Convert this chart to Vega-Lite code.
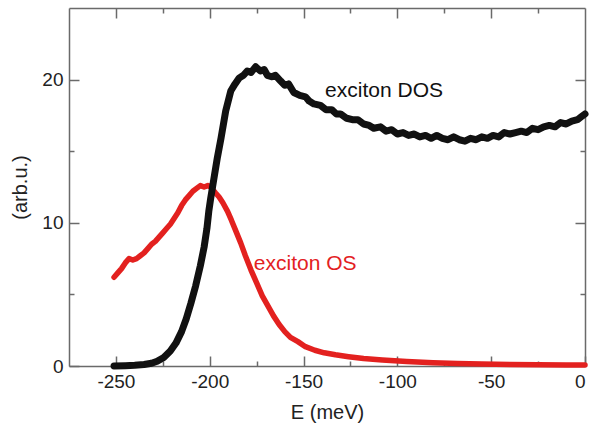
{
  "$schema": "https://vega.github.io/schema/vega-lite/v6.json",
  "width": 516,
  "height": 358,
  "autosize": {"type": "none"},
  "padding": {"left": 69, "top": 8, "right": 5, "bottom": 58},
  "background": "white",
  "config": {
    "view": {"stroke": null},
    "font": "Liberation Sans",
    "axis": {
      "grid": false,
      "domainColor": "#6a6a6a",
      "domainWidth": 1.5,
      "tickColor": "#6a6a6a",
      "tickWidth": 1.5,
      "labelColor": "#222222",
      "labelFont": "Liberation Sans",
      "labelFontSize": 19,
      "titleFont": "Liberation Sans",
      "titleFontSize": 20,
      "titleFontWeight": "normal",
      "titleColor": "#222222"
    }
  },
  "datasets": {
    "dos": [
      {"E": -251, "v": 0.0}, {"E": -245, "v": 0.02}, {"E": -240, "v": 0.05}, {"E": -235, "v": 0.1},
      {"E": -231, "v": 0.19}, {"E": -228, "v": 0.33}, {"E": -224.5, "v": 0.6}, {"E": -221, "v": 1.05},
      {"E": -218, "v": 1.6}, {"E": -215, "v": 2.4}, {"E": -212.5, "v": 3.3}, {"E": -210, "v": 4.4},
      {"E": -207.5, "v": 5.6}, {"E": -205, "v": 7.0}, {"E": -203, "v": 8.3}, {"E": -201.5, "v": 9.6},
      {"E": -200.5, "v": 10.8}, {"E": -199.5, "v": 11.7}, {"E": -198.5, "v": 12.5}, {"E": -197.5, "v": 13.3},
      {"E": -196, "v": 14.5}, {"E": -194, "v": 15.9}, {"E": -191.5, "v": 17.8}, {"E": -188.8, "v": 19.2},
      {"E": -186.5, "v": 19.7}, {"E": -184.4, "v": 20.1}, {"E": -182, "v": 20.3}, {"E": -180, "v": 20.6},
      {"E": -178, "v": 20.5}, {"E": -175.5, "v": 20.9}, {"E": -173, "v": 20.6}, {"E": -171, "v": 20.7},
      {"E": -169.3, "v": 20.3}, {"E": -167, "v": 20.2}, {"E": -165, "v": 20.3}, {"E": -162.2, "v": 19.9},
      {"E": -160, "v": 19.6}, {"E": -158, "v": 19.7}, {"E": -155.2, "v": 19.1}, {"E": -152, "v": 18.9},
      {"E": -149, "v": 18.8}, {"E": -147, "v": 18.5}, {"E": -144.5, "v": 18.3}, {"E": -141, "v": 18.2},
      {"E": -138, "v": 17.9}, {"E": -135, "v": 17.9}, {"E": -132.5, "v": 17.6}, {"E": -130.3, "v": 17.6},
      {"E": -127, "v": 17.3}, {"E": -124, "v": 17.2}, {"E": -121, "v": 17.2}, {"E": -118, "v": 16.9},
      {"E": -115, "v": 16.8}, {"E": -112.6, "v": 16.6}, {"E": -109, "v": 16.7}, {"E": -106, "v": 16.4},
      {"E": -103, "v": 16.5}, {"E": -100, "v": 16.2}, {"E": -97, "v": 16.3}, {"E": -94, "v": 16.1},
      {"E": -91, "v": 16.2}, {"E": -88, "v": 16.0}, {"E": -85, "v": 16.1}, {"E": -82, "v": 15.9},
      {"E": -79, "v": 16.1}, {"E": -76, "v": 15.9}, {"E": -73, "v": 15.8}, {"E": -70, "v": 16.0},
      {"E": -67, "v": 15.8}, {"E": -64, "v": 15.7}, {"E": -61, "v": 15.9}, {"E": -58, "v": 15.8},
      {"E": -55, "v": 16.0}, {"E": -52, "v": 15.9}, {"E": -49, "v": 16.1}, {"E": -46, "v": 16.0},
      {"E": -43, "v": 16.3}, {"E": -40, "v": 16.2}, {"E": -37, "v": 16.3}, {"E": -34, "v": 16.4},
      {"E": -31, "v": 16.3}, {"E": -28, "v": 16.6}, {"E": -25, "v": 16.5}, {"E": -22, "v": 16.7},
      {"E": -19, "v": 16.8}, {"E": -16, "v": 16.7}, {"E": -13, "v": 17.0}, {"E": -10, "v": 16.9},
      {"E": -7, "v": 17.1}, {"E": -4, "v": 17.2}, {"E": -2, "v": 17.4}, {"E": 0, "v": 17.6}
    ],
    "os": [
      {"E": -251, "v": 6.2}, {"E": -249, "v": 6.5}, {"E": -247, "v": 6.8}, {"E": -245, "v": 7.2},
      {"E": -243, "v": 7.5}, {"E": -241, "v": 7.4}, {"E": -239, "v": 7.5}, {"E": -237, "v": 7.7},
      {"E": -235, "v": 7.9}, {"E": -233, "v": 8.2}, {"E": -231, "v": 8.5}, {"E": -229, "v": 8.7},
      {"E": -227, "v": 9.0}, {"E": -225, "v": 9.3}, {"E": -223, "v": 9.6}, {"E": -221, "v": 9.9},
      {"E": -219, "v": 10.3}, {"E": -217, "v": 10.7}, {"E": -215, "v": 11.2}, {"E": -213, "v": 11.6},
      {"E": -211, "v": 11.9}, {"E": -209, "v": 12.2}, {"E": -207, "v": 12.4}, {"E": -205, "v": 12.6},
      {"E": -203, "v": 12.5}, {"E": -201, "v": 12.6}, {"E": -199.5, "v": 12.5}, {"E": -197, "v": 12.1},
      {"E": -195, "v": 11.8}, {"E": -193, "v": 11.4}, {"E": -190.5, "v": 10.8}, {"E": -188.5, "v": 10.2},
      {"E": -186, "v": 9.4}, {"E": -183.5, "v": 8.6}, {"E": -181, "v": 7.7}, {"E": -178, "v": 6.7},
      {"E": -175, "v": 5.8}, {"E": -172, "v": 4.9}, {"E": -169, "v": 4.2}, {"E": -166, "v": 3.5},
      {"E": -163, "v": 2.9}, {"E": -160, "v": 2.4}, {"E": -157, "v": 2.0}, {"E": -153, "v": 1.7},
      {"E": -149, "v": 1.35}, {"E": -144, "v": 1.1}, {"E": -139, "v": 0.92}, {"E": -133, "v": 0.78},
      {"E": -126, "v": 0.65}, {"E": -118, "v": 0.52}, {"E": -108, "v": 0.42}, {"E": -95, "v": 0.32},
      {"E": -81, "v": 0.23}, {"E": -68, "v": 0.18}, {"E": -55, "v": 0.14}, {"E": -40, "v": 0.11},
      {"E": -25, "v": 0.09}, {"E": -10, "v": 0.07}, {"E": 0, "v": 0.07}
    ],
    "labels": [
      {"E": -138.5, "v": 19.2, "text": "exciton DOS", "series": "DOS"},
      {"E": -176.5, "v": 7.1, "text": "exciton OS", "series": "OS"}
    ]
  },
  "layer": [
    {
      "data": {"name": "os"},
      "mark": {"type": "line", "color": "#e3211f", "strokeWidth": 5.5, "strokeCap": "round", "strokeJoin": "round"},
      "encoding": {
        "x": {
          "field": "E", "type": "quantitative",
          "scale": {"domain": [-275, 0], "nice": false, "zero": false},
          "axis": {
            "orient": "top", "title": null, "labels": false,
            "values": [-250, -225, -200, -175, -150, -125, -100, -75, -50, -25],
            "tickSize": {"condition": {"test": "datum.value % 50 === 0", "value": -10}, "value": -5}
          }
        },
        "y": {
          "field": "v", "type": "quantitative",
          "scale": {"domain": [0, 25], "nice": false},
          "axis": {
            "orient": "right", "title": null, "labels": false,
            "values": [5, 10, 15, 20],
            "tickSize": {"condition": {"test": "datum.value % 10 === 0", "value": -10}, "value": -5}
          }
        }
      }
    },
    {
      "data": {"name": "dos"},
      "mark": {"type": "line", "color": "#111111", "strokeWidth": 7, "strokeCap": "round", "strokeJoin": "round"},
      "encoding": {
        "x": {
          "field": "E", "type": "quantitative",
          "axis": {
            "orient": "bottom", "title": "E (meV)",
            "values": [-250, -225, -200, -175, -150, -125, -100, -75, -50, -25, 0],
            "labelExpr": "datum.value % 50 === 0 ? replace(datum.label, '\u2212', '-') : ''",
            "labelPadding": 16,
            "titlePadding": 11,
            "tickSize": {"condition": {"test": "datum.value % 50 === 0", "value": -10}, "value": -5}
          }
        },
        "y": {
          "field": "v", "type": "quantitative",
          "axis": {
            "orient": "left", "title": "(arb.u.)",
            "values": [0, 5, 10, 15, 20],
            "labelExpr": "datum.value % 10 === 0 ? datum.label : ''",
            "labelPadding": 16,
            "titlePadding": 11,
            "tickSize": {"condition": {"test": "datum.value % 10 === 0", "value": -10}, "value": -5}
          }
        }
      }
    },
    {
      "data": {"name": "labels"},
      "mark": {"type": "text", "align": "left", "baseline": "middle", "fontSize": 21, "font": "Liberation Sans"},
      "encoding": {
        "x": {"field": "E", "type": "quantitative", "axis": null},
        "y": {"field": "v", "type": "quantitative", "axis": null},
        "text": {"field": "text"},
        "color": {"field": "series", "type": "nominal", "scale": {"domain": ["DOS", "OS"], "range": ["#111111", "#e3211f"]}, "legend": null}
      }
    }
  ],
  "resolve": {"axis": {"x": "independent", "y": "independent"}}
}
